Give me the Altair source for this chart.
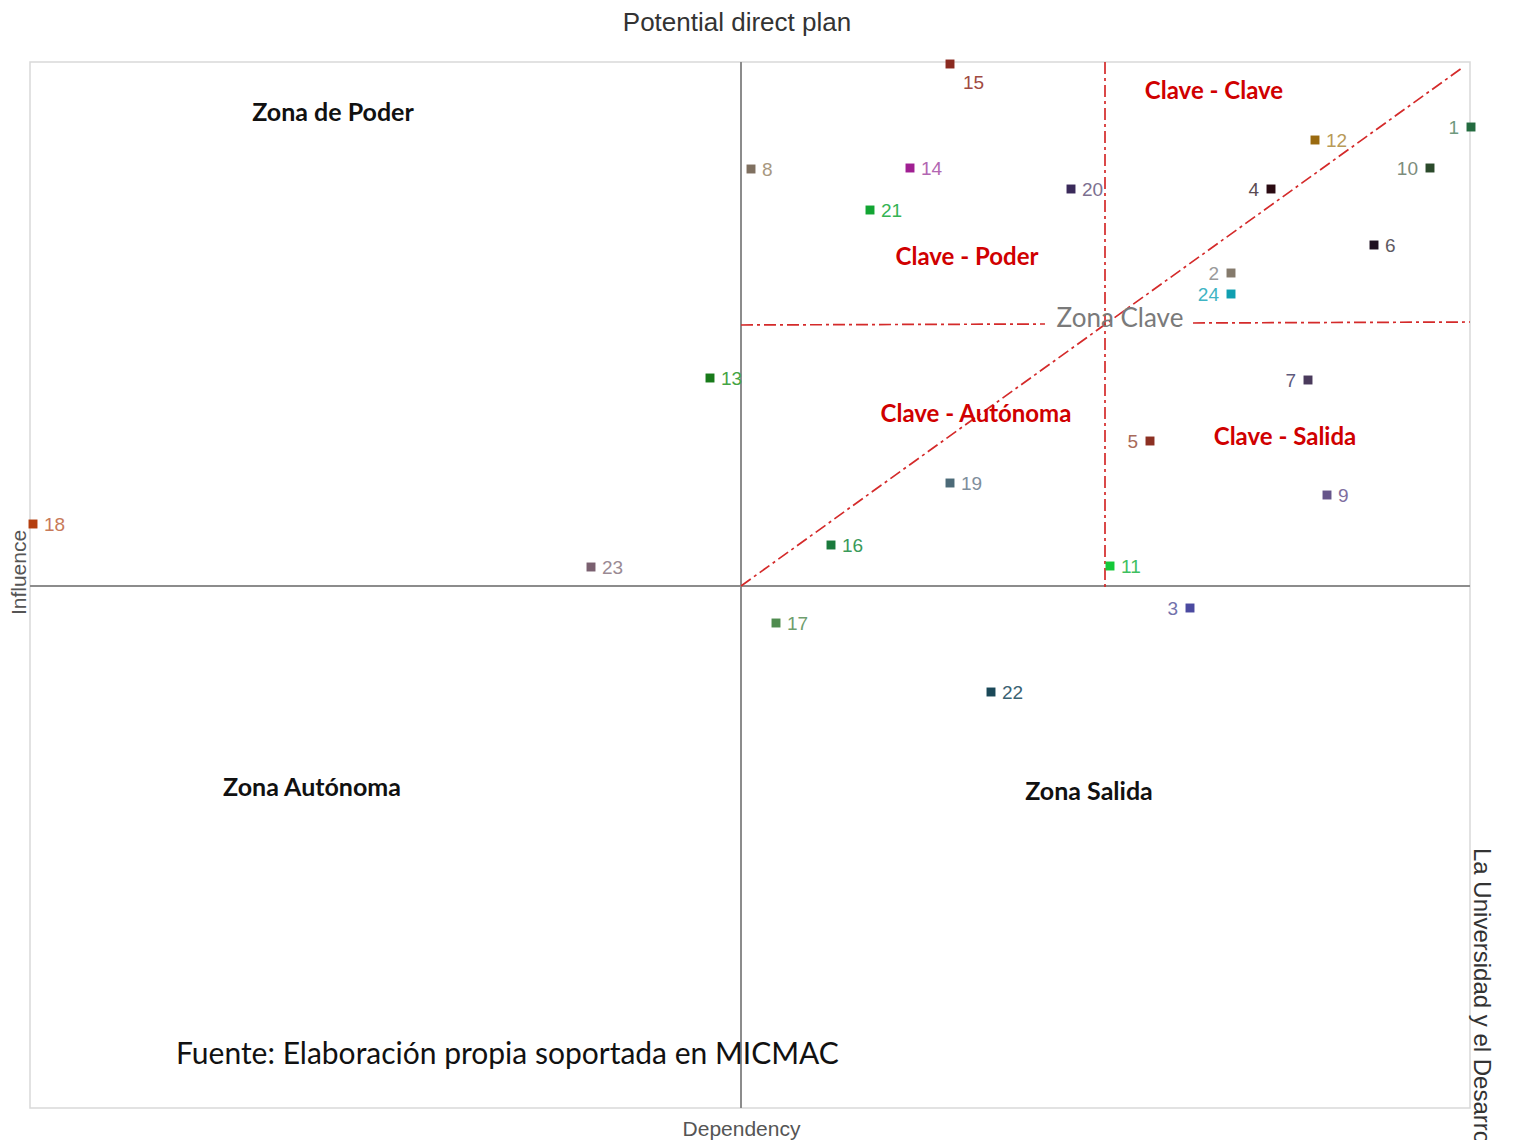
import altair as alt
import pandas as pd

# ---- data (Dependency = x, Influence = y, origin at the axis cross) ----
ids = [str(i) for i in range(1, 25)]
dependency = [730, 490, 449, 530, 409, 633, 567, 10, 586, 689, 369, 574,
              -31, 169, 209, 90, 35, -708, 209, 330, 129, 250, -150, 490]
influence = [459, 313, -22, 397, 145, 341, 206, 417, 91, 418, 20, 446,
             208, 418, 522, 41, -37, 62, 103, 397, 376, -106, 19, 292]
label_side = ["L", "L", "L", "L", "L", "R", "L", "R", "R", "L", "R", "R",
              "R", "R", "B", "R", "R", "R", "R", "R", "R", "R", "R", "L"]
point_colors = ["#236b3f", "#857a6c", "#4b4aa0", "#2a0a12", "#8c3022", "#1f1020",
                "#4a3a5c", "#7f7060", "#66558a", "#2b4a2b", "#14c838", "#9a6a10",
                "#187a1a", "#a01f92", "#8a2a20", "#1a7a3c", "#4f8c4f", "#b43e0e",
                "#4c6a78", "#3a2a5a", "#12a532", "#1a4858", "#7a6070", "#109fb0"]
label_colors = ["#6f9a7e", "#9a9a9a", "#7272ac", "#5a4a52", "#a86a5a", "#5e5a62",
                "#5e5a7c", "#a8987f", "#7e6ea0", "#7c8c7c", "#3ec060", "#b89a58",
                "#44a444", "#b266b2", "#a04a42", "#3a9a5a", "#6e9e6e", "#c87a5a",
                "#7e8e9c", "#7c7090", "#34b454", "#3a6272", "#9a8a94", "#40b4c4"]

zone_text = ["Zona de Poder", "Zona Autónoma", "Zona Salida"]
zone_x = [-408, -429, 348]
zone_y = [473, -202, -206]

key_text = ["Clave - Clave", "Clave - Poder", "Clave - Autónoma", "Clave - Salida"]
key_x = [473, 226, 235, 544]
key_y = [494, 328, 171, 148]

# red dash-dot dividing lines (segments)
seg_x1 = [364, 0, 452, 0]
seg_y1 = [524, 261, 263, 0]
seg_x2 = [364, 304, 729, 721]
seg_y2 = [-4, 262, 264, 518]

X_DOMAIN = [-711, 729]
Y_DOMAIN = [-522, 524]

pts = pd.DataFrame({"id": ids, "dep": dependency, "inf": influence, "side": label_side,
                    "pc": point_colors, "lc": label_colors})
zones = pd.DataFrame({"t": zone_text, "x": zone_x, "y": zone_y})
keys = pd.DataFrame({"t": key_text, "x": key_x, "y": key_y})
segs = pd.DataFrame({"x1": seg_x1, "y1": seg_y1, "x2": seg_x2, "y2": seg_y2})
zc = pd.DataFrame({"t": ["Zona Clave"], "x": [379], "y": [267]})
src = pd.DataFrame({"t": ["Fuente: Elaboración propia soportada en MICMAC"], "x": [-565], "y": [-469]})
side_txt = pd.DataFrame({"t": ["La Universidad y el Desarrollo"], "x": [740], "y": [-262]})

xs = alt.Scale(domain=X_DOMAIN, nice=False, zero=False)
ys = alt.Scale(domain=Y_DOMAIN, nice=False, zero=False)

X = alt.X("dep:Q", scale=xs, axis=alt.Axis(title="Dependency", labels=False, ticks=False,
          domain=False, grid=False, titleFont="Liberation Sans", titleFontSize=21,
          titleFontWeight="normal", titleColor="#555555", titleX=711, titleY=21,
          titleBaseline="middle", titleAlign="center"))
Y = alt.Y("inf:Q", scale=ys, axis=alt.Axis(title="Influence", labels=False, ticks=False,
          domain=False, grid=False, titleFont="Liberation Sans", titleFontSize=21,
          titleFontWeight="normal", titleColor="#555555", titleX=-11, titleY=510,
          titleBaseline="middle", titleAlign="center", titleAngle=-90))

base = alt.Chart(pts)

vline = alt.Chart(pts).mark_rule(color="#8c8c8c", strokeWidth=2).encode(x=alt.datum(0, scale=xs))
hline = alt.Chart(pts).mark_rule(color="#8c8c8c", strokeWidth=2).encode(y=alt.datum(0, scale=ys))

red = alt.Chart(segs).mark_rule(color="#d42a2a", strokeWidth=1.7, strokeDash=[12, 4, 3, 4]).encode(
    x=alt.X("x1:Q", scale=xs), y=alt.Y("y1:Q", scale=ys), x2="x2:Q", y2="y2:Q")

points = base.mark_point(shape="square", filled=True, size=80, opacity=1).encode(
    x=X, y=Y, color=alt.Color("pc:N", scale=None))

lab_r = base.transform_filter(alt.datum.side == "R").mark_text(
    align="left", baseline="middle", dx=11, dy=1, font="Liberation Sans", fontSize=19).encode(
    x="dep:Q", y="inf:Q", text="id:N", color=alt.Color("lc:N", scale=None))
lab_l = base.transform_filter(alt.datum.side == "L").mark_text(
    align="right", baseline="middle", dx=-12, dy=1, font="Liberation Sans", fontSize=19).encode(
    x="dep:Q", y="inf:Q", text="id:N", color=alt.Color("lc:N", scale=None))
lab_b = base.transform_filter(alt.datum.side == "B").mark_text(
    align="left", baseline="middle", dx=13, dy=19, font="Liberation Sans", fontSize=19).encode(
    x="dep:Q", y="inf:Q", text="id:N", color=alt.Color("lc:N", scale=None))

zone_lbl = alt.Chart(zones).mark_text(font="Lato", fontWeight="bold", fontSize=25,
                                      color="#111111", align="center", baseline="middle").encode(
    x=alt.X("x:Q", scale=xs), y=alt.Y("y:Q", scale=ys), text="t:N")
key_lbl = alt.Chart(keys).mark_text(font="Lato", fontWeight="bold", fontSize=24,
                                    color="#d00000", align="center", baseline="middle").encode(
    x=alt.X("x:Q", scale=xs), y=alt.Y("y:Q", scale=ys), text="t:N")
zc_lbl = alt.Chart(zc).mark_text(font="Lato", fontSize=26, color="#7a7a7a",
                                 align="center", baseline="middle").encode(
    x=alt.X("x:Q", scale=xs), y=alt.Y("y:Q", scale=ys), text="t:N")
src_lbl = alt.Chart(src).mark_text(font="Lato", fontSize=30, color="#111111",
                                   align="left", baseline="middle").encode(
    x=alt.X("x:Q", scale=xs), y=alt.Y("y:Q", scale=ys), text="t:N")
side_lbl = alt.Chart(side_txt).mark_text(font="Liberation Sans", fontSize=24, color="#333333",
                                         align="left", baseline="middle", angle=90).encode(
    x=alt.X("x:Q", scale=xs), y=alt.Y("y:Q", scale=ys), text="t:N")

chart = alt.layer(
    vline, hline, red, points, lab_r, lab_l, lab_b,
    zone_lbl, key_lbl, zc_lbl, src_lbl, side_lbl
).properties(
    width=1440, height=1046,
    title=alt.TitleParams("Potential direct plan", font="Liberation Sans", fontSize=26,
                          fontWeight="normal", color="#333333", anchor="middle",
                          dx=-13, offset=24),
    autosize=alt.AutoSizeParams(type="none"),
    padding={"left": 22, "top": 54, "right": 30, "bottom": 32},
    background="white",
).configure_view(stroke="#d9d9d9", strokeWidth=1.5)

chart.save("out.html", embed_options={"renderer": "svg", "actions": False})
